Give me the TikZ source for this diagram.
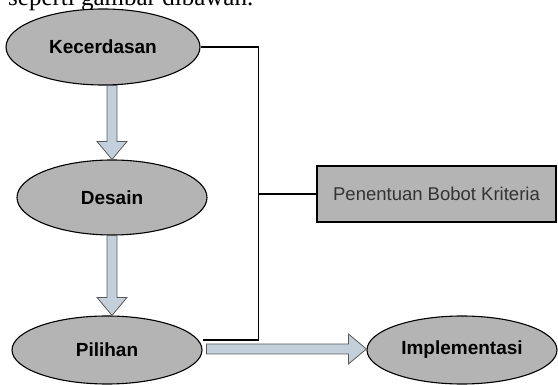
\documentclass[tikz,border=0pt]{standalone}
\usepackage{fontspec}
\setmainfont{Liberation Sans}
\newfontfamily\pagefont{Liberation Serif}
\usetikzlibrary{shapes.geometric,calc}
\definecolor{stepgray}{HTML}{B4B4B4}
\definecolor{arrowblue}{HTML}{C3CFDB}
\definecolor{arrowedge}{HTML}{5A5A5A}
\definecolor{boxtext}{HTML}{333333}
\newcommand{\blockarrow}[2]{%
    \coordinate (ba-h) at ($(#2)!18pt!(#1)$);
    \draw[bigarrow] ($(#1)!5pt!90:(#2)$) -- ($(ba-h)!5pt!90:(#2)$) -- ($(ba-h)!15pt!90:(#2)$)
        -- (#2) -- ($(ba-h)!15pt!-90:(#2)$) -- ($(ba-h)!5pt!-90:(#2)$) -- ($(#1)!5pt!-90:(#2)$) -- cycle;}
\begin{document}
\begin{tikzpicture}
    [x=1pt,y=-1pt,
    phase/.style={ellipse,draw,line width=1.1pt,fill=stepgray,inner sep=0pt,font=\bfseries\fontsize{19}{21}\selectfont},
    weightbox/.style={rectangle,draw,line width=1.1pt,fill=stepgray,minimum width=239pt,minimum height=56pt,text=boxtext,font=\fontsize{18.5}{20}\selectfont},
    bigarrow/.style={fill=arrowblue,draw=arrowedge,line width=0.8pt,line join=miter},
    wire/.style={draw,line width=1.1pt}]
    \useasboundingbox (0,0) rectangle (558,385);
    \clip (0,0) rectangle (558,385);
    \node[anchor=base west,inner sep=0pt,font=\pagefont\fontsize{25}{28}\selectfont] (caption) at (8,6) {seperti gambar dibawah.};
    \node[phase,minimum width=194pt,minimum height=76pt] (kec) at (103,47) {Kecerdasan};
    \node[phase,minimum width=190pt,minimum height=75pt] (des) at (112,197.5) {Desain};
    \node[phase,minimum width=190pt,minimum height=68pt] (pil) at (107,350) {Pilihan};
    \node[phase,minimum width=190pt,minimum height=68pt] (imp) at (462,350) {Implementasi};
    \node[weightbox] (bobot) at (436.5,194) {Penentuan Bobot Kriteria};
    \path (bobot.west) ++(-58,0) coordinate (bus);
    \coordinate (pil-out) at ($(pil.east)+(0,-10)$);
    \coordinate (pil-arrow) at ($(pil.east)+(4,-1)$);
    \draw[wire] (kec.east) -| (bus) |- (pil-out);
    \draw[wire] (bus) -- (bobot.west);
    \blockarrow{kec.south -| des.north}{des.north}
    \blockarrow{des.south}{des.south |- pil.north}
    \blockarrow{pil-arrow}{pil-arrow -| imp.west}
\end{tikzpicture}
\end{document}
